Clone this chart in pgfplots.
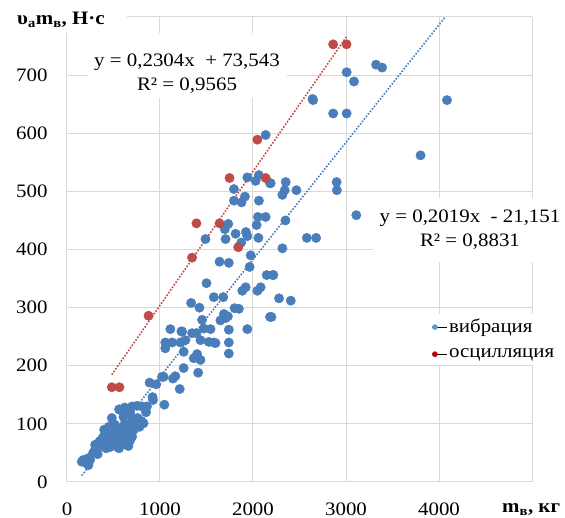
\documentclass[border=0pt]{standalone}
\usepackage{fontspec}
\setmainfont{Liberation Serif}[FakeStretch=1.1]
\usepackage{pgfplots}
\pgfplotsset{compat=1.18}
\definecolor{bluept}{HTML}{4A7EBB}
\definecolor{redpt}{HTML}{BE4B48}
\definecolor{gridc}{HTML}{D9D9D9}
\definecolor{legblue}{HTML}{5B9BD5}
\definecolor{legred}{HTML}{C00000}
\newcommand{\fs}{\fontsize{19}{23}\selectfont}
\begin{document}
\fs
\begin{tikzpicture}
\useasboundingbox (-67pt,-36pt) rectangle (498pt,482pt);
\begin{axis}[
  at={(0pt,0pt)}, anchor=south west,
  scale only axis, width=465pt, height=465pt,
  xmin=0, xmax=5000, ymin=0, ymax=800,
  xtick={0,1000,2000,3000,4000,5000},
  xticklabels={0,1000,2000,3000,4000,{}},
  ytick={0,100,200,300,400,500,600,700,800},
  yticklabels={0,100,200,300,400,500,600,700,{}},
  grid=major, major grid style={draw=gridc, line width=1pt},
  axis lines*=left,
  axis line style={draw=gridc, line width=1pt},
  major tick length=0pt,
  ticklabel style={font=\fs},
  xticklabel style={yshift=-14pt},
  yticklabel style={xshift=-13pt},
  clip=false,
  legend style={at={(0.771,0.362)}, anchor=north west, draw=none, fill=white,
    font=\fs, row sep=9pt, inner xsep=6pt, inner ysep=3pt,
    cells={anchor=west}},
  legend cell align=left,
]
\addplot[only marks, mark=*, mark size=4.7pt, mark options={fill=bluept, draw=bluept},
  legend image code/.code={\path (-3pt,0pt) -- (12pt,0pt);\fill[legblue] (0pt,0pt) circle (2.6pt);}]
coordinates {
(2136,597) (2647,657) (2640,659) (3323,718) (3388,713) (3007,705) (3086,689)
(2862,634) (3007,634) (4086,657) (3802,562) (2899,516) (2902,502) (2352,516)
(2341,502) (2467,502) (2316,494) (3111,459) (2349,450) (2579,420) (2679,420)
(2316,402) (2190,514) (2219,356) (2280,316) (2406,312) (2198,284) (1939,524)
(2064,528) (2028,518) (2183,514) (1795,504) (1913,491) (1795,484) (1877,481)
(2064,484) (2053,456) (2136,456) (2039,442) (1734,444) (1697,435) (1813,427)
(1924,430) (1939,423) (1705,418) (1489,418) (1874,412) (2058,420) (1975,390)
(1640,379) (1740,377) (1964,370) (1500,342) (2147,356) (2212,356) (1921,335)
(1885,329) (2082,335) (2047,329) (1579,318) (1680,318) (1335,308) (1424,300)
(1802,299) (1848,298) (2183,284) (1453,279) (1687,289) (1705,282) (1650,278)
(1730,285) (1939,263) (1238,259) (1345,256) (1392,256) (1543,263) (1471,264)
(1740,262) (1273,244) (1435,244) (1579,240) (1740,240) (1111,263) (1230,259)
(1057,240) (1130,240) (1219,240) (1057,230) (1255,224) (1525,241) (1597,239)
(1740,221) (1399,220) (1363,213) (1435,210) (1255,196) (1165,182) (1140,178)
(1410,188) (1039,181) (1212,160) (888,171) (960,168) (920,146) (1022,181)
(925,141) (1047,133) (752,131) (806,130) (860,130) (572,124) (482,110)
(608,112) (680,115) (823,101) (518,98) (572,92) (644,95) (446,84)
(302,64) (338,61) (176,38) (230,41) (212,32) (159,35) (248,38) (194,35) (230,29)
(350,70) (380,75) (400,80) (420,66) (440,72) (460,60) (470,85) (490,70)
(500,78) (510,90) (520,62) (540,74) (550,82) (560,68) (580,76) (590,88)
(600,70) (620,80) (630,65) (640,74) (660,84) (680,72) (700,78) (720,90)
(740,100) (760,110) (780,95) (800,105) (850,120) (500,100) (450,95) (400,90)
(300,55) (330,48) (280,50) (420,58) (560,58) (660,62) (700,105) (620,100)
(560,125) (620,128) (680,120) (700,130)
};
\addlegendentry{вибрация}
\addplot[only marks, mark=*, mark size=4.7pt, mark options={fill=redpt, draw=redpt},
  legend image code/.code={\path (-3pt,0pt) -- (12pt,0pt);\fill[legred] (0pt,0pt) circle (2.6pt);}]
coordinates {
(482,163) (564,163) (877,286) (1748,523) (2136,523) (1392,445) (1640,445)
(1841,404) (1345,386) (2047,589) (2862,753) (3006,753)
};
\addlegendentry{осцилляция}
% trendlines (Excel linear fits, endpoints)
\addplot[forget plot, draw=bluept, line width=1.6pt, dash pattern=on 1.6pt off 1.6pt]
coordinates {(159,11.0) (4067,800)};
\addplot[forget plot, draw=redpt, line width=1.6pt, dash pattern=on 1.6pt off 1.6pt]
coordinates {(482,184.6) (3006,766.1)};
\end{axis}
% equation boxes
\fill[white] (21pt,384pt) rectangle (220pt,449pt);
\node[align=center, inner sep=0pt, font=\fs] at (120pt,408pt)
  {y = 0,2304x\ \ + 73,543\\[1pt] R² = 0,9565};
\fill[white] (306pt,220pt) rectangle (498pt,284pt);
\node[align=center, inner sep=0pt, font=\fs] at (403pt,252pt)
  {y = 0,2019x\ \ - 21,151\\[1pt] R² = 0,8831};
% axis titles
\fill[white] (-60pt,449pt) rectangle (60pt,482pt);
\node[anchor=base west, inner sep=0pt, font=\fs\bfseries] at (-50pt,457pt)
  {υ\textsubscript{а}m\textsubscript{в}, Н·с};
\node[anchor=base west, inner sep=0pt, font=\fs\bfseries] at (435pt,-31pt)
  {m\textsubscript{в}, кг};
\end{tikzpicture}
\end{document}
